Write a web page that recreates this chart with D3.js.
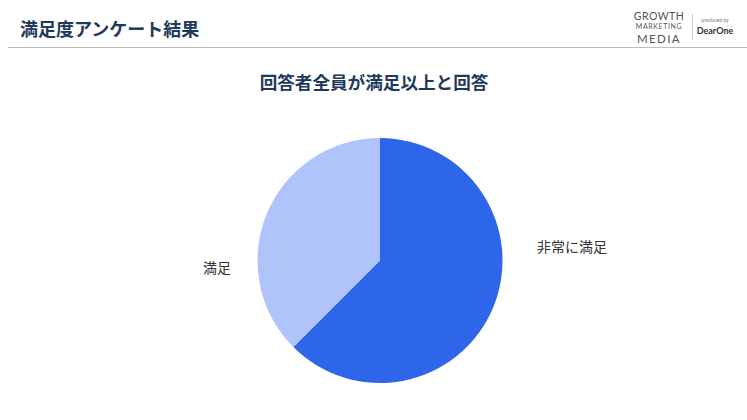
<!DOCTYPE html>
<html><head><meta charset="utf-8">
<script src="https://cdn.jsdelivr.net/npm/d3@7"></script>
<style>
html,body{margin:0;padding:0;background:#fff;}
svg{display:block;font-family:"Noto Sans CJK JP","Noto Sans",sans-serif;}
</style></head>
<body>
<svg id="c" width="747" height="420"></svg>
<script>
const pageTitle = "満足度アンケート結果";
const chartTitle = "回答者全員が満足以上と回答";
const categories = ["非常に満足", "満足"];
const values = [62.5, 37.5];
const colors = ["#2d66e8", "#aec4fa"];

const svg = d3.select("#c");

// header
svg.append("text").attr("x", 20).attr("y", 36)
  .attr("font-size", 18).attr("font-weight", 700).attr("fill", "#1d3a5c")
  .text(pageTitle);
svg.append("line").attr("x1", 8).attr("x2", 747).attr("y1", 47.5).attr("y2", 47.5)
  .attr("stroke", "#bdbdbd").attr("stroke-width", 1);

// logo
const logo = svg.append("g").attr("font-family", "Lato, 'Open Sans', sans-serif").attr("fill", "#555");
logo.append("text").attr("x", 659).attr("y", 20).attr("text-anchor", "middle")
  .attr("font-size", 10.5).attr("letter-spacing", 0.5).text("GROWTH");
logo.append("text").attr("x", 659).attr("y", 29).attr("text-anchor", "middle")
  .attr("font-size", 7).attr("letter-spacing", 0.6).text("MARKETING");
logo.append("text").attr("x", 659).attr("y", 43).attr("text-anchor", "middle")
  .attr("font-size", 11.5).attr("letter-spacing", 1.4).text("MEDIA");
svg.append("line").attr("x1", 692.5).attr("x2", 692.5).attr("y1", 14).attr("y2", 40)
  .attr("stroke", "#ccc");
logo.append("text").attr("x", 715).attr("y", 22).attr("text-anchor", "middle")
  .attr("font-size", 5).attr("fill", "#777").text("produced by");
logo.append("text").attr("x", 715).attr("y", 34).attr("text-anchor", "middle")
  .attr("font-size", 9).attr("font-weight", 700).attr("fill", "#333").text("DearOne");

// chart title
svg.append("text").attr("x", 374).attr("y", 89).attr("text-anchor", "middle")
  .attr("font-size", 17.6).attr("font-weight", 700).attr("fill", "#1d3a5c")
  .text(chartTitle);

// pie
const cx = 380, cy = 260.5, r = 122.5;
const pie = d3.pie().sort(null).value(d => d.v);
const data = categories.map((c, i) => ({c, v: values[i], col: colors[i]}));
const arcs = pie(data);
const arc = d3.arc().innerRadius(0).outerRadius(r);
const g = svg.append("g").attr("transform", `translate(${cx},${cy})`);
g.selectAll("path").data(arcs).join("path")
  .attr("d", arc).attr("fill", d => d.data.col);

// labels
const labelPos = [[537, 252], [203, 273]];
svg.selectAll("text.lbl").data(arcs).join("text").attr("class", "lbl")
  .attr("x", (d, i) => labelPos[i][0]).attr("y", (d, i) => labelPos[i][1])
  .attr("font-size", 14).attr("fill", "#333")
  .text(d => d.data.c);
</script>
</body></html>
